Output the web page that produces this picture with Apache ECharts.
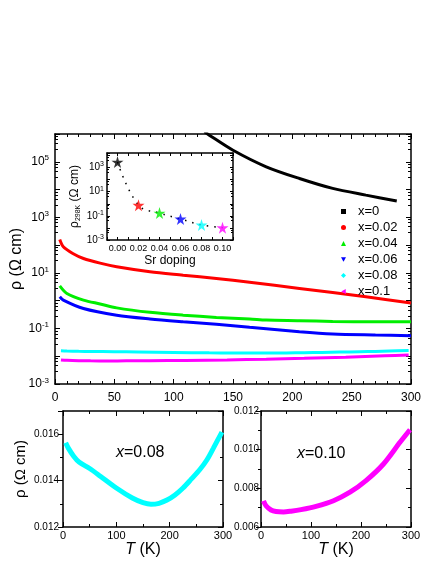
<!DOCTYPE html>
<html>
<head>
<meta charset="utf-8">
<script src="https://cdn.jsdelivr.net/npm/echarts@6/dist/echarts.min.js"></script>
<style>
html, body { margin: 0; padding: 0; background: #fff; }
#chart { width: 436px; height: 564px; }
</style>
</head>
<body>
<div id="chart"></div>
<script>
// main panel: resistivity vs T for each doping (log scale)
const temp0 = [126, 130, 150, 178, 206, 234, 262, 288];
const rho0 = [1.2e6, 9.1e5, 2.6e5, 6.6e4, 2.5e4, 1.1e4, 6300, 3900];

const temp02 = [4, 7, 15, 24, 38, 52, 80, 108, 136, 164, 206, 262, 300];
const rho02 = [158, 87, 50, 33, 22.4, 16.6, 11, 8.3, 6.3, 4.6, 2.75, 1.38, 0.83];

const temp04 = [4, 10, 24, 38, 52, 80, 108, 136, 164, 178, 206, 234, 270, 300];
const rho04 = [3.4, 1.82, 1.05, 0.76, 0.55, 0.38, 0.3, 0.25, 0.22, 0.2, 0.19, 0.178, 0.174, 0.174];

const temp06 = [4, 7, 24, 52, 80, 108, 136, 164, 206, 234, 270, 300];
const rho06 = [1.38, 1.05, 0.52, 0.3, 0.22, 0.174, 0.141, 0.11, 0.076, 0.063, 0.058, 0.055];

// x=0.08 and x=0.10 (also drawn on linear scale below)
const temp08 = [5, 10, 20, 30, 50, 70, 100, 130, 150, 165, 180, 195, 210, 225, 240, 257, 270, 282, 298];
const rho08 = [0.01563, 0.0154, 0.01505, 0.0148, 0.01452, 0.01419, 0.01368, 0.01325, 0.01305, 0.01298,
               0.01302, 0.01316, 0.01338, 0.01368, 0.01405, 0.01449, 0.0149, 0.0154, 0.01609];

const temp10 = [5, 10, 20, 30, 45, 60, 80, 110, 145, 178, 210, 245, 278, 298];
const rho10 = [0.00735, 0.0071, 0.00688, 0.0068, 0.00678, 0.00682, 0.0069, 0.00707, 0.00736, 0.0078,
               0.0084, 0.00926, 0.01038, 0.01103];

// inset: rho at 298 K vs Sr doping
const doping = [0, 0.02, 0.04, 0.06, 0.08, 0.10];
const rho298 = [2800, 0.76, 0.17, 0.055, 0.0176, 0.0105];

const names = ['x=0', 'x=0.02', 'x=0.04', 'x=0.06', 'x=0.08', 'x=0.1'];
const colors = ['#000000', '#ff0000', '#00ee00', '#0000ff', '#00ffff', '#ff00ff'];

const pairs = (xs, ys) => xs.map((x, i) => [x, ys[i]]);

const FONT = '"Liberation Sans", Arial, sans-serif';
const STAR = 'path://M50,0L61,35L98,35L68,57L79,91L50,70L21,91L32,57L2,35L39,35Z';

function logLabel(v) {
    const e = Math.round(Math.log10(v));
    if (Math.abs(e) % 2 !== 1 || e > 5) return '';
    return '{b|10}{s|' + e + '}';
}

function ticks(len, inside, split, minorLen) {
    return {
        axisTick: { show: true, inside: inside, length: len, lineStyle: { color: '#000', width: 1 } },
        minorTick: { show: split > 0, splitNumber: split || 2, length: minorLen, lineStyle: { color: '#000', width: 1 } }
    };
}

function axis(grid, extra) {
    return Object.assign({
        gridIndex: grid,
        type: 'value',
        axisLine: { show: true, onZero: false, lineStyle: { color: '#000', width: 1.5 } },
        splitLine: { show: false },
        axisLabel: { show: false },
        nameMoveOverlap: false
    }, ticks(5, true, 2, 3), extra);
}

const chart = echarts.init(document.getElementById('chart'));

const mainLines = [
    [temp0, rho0], [temp02, rho02], [temp04, rho04],
    [temp06, rho06], [temp08, rho08], [temp10, rho10]
].map((d, i) => ({
    name: names[i],
    type: 'line',
    xAxisIndex: 0,
    yAxisIndex: 0,
    data: pairs(d[0], d[1]),
    smooth: 0.3,
    showSymbol: false,
    itemStyle: { color: colors[i] },
    lineStyle: { color: colors[i], width: 3 },
    z: 3
}));

const tName = {
    fontSize: 16, color: '#000',
    rich: { i: { fontSize: 16, fontStyle: 'italic', color: '#000' } }
};

chart.setOption({
    animation: false,
    backgroundColor: '#fff',
    textStyle: { fontFamily: FONT, color: '#000' },
    grid: [
        { left: 55, top: 134, width: 356, height: 250, outerBoundsMode: 'none' },
        { left: 107, top: 153, width: 126, height: 87, show: true, backgroundColor: '#fff', borderWidth: 0, z: 4, outerBoundsMode: 'none' },
        { left: 63, top: 411, width: 160, height: 116, outerBoundsMode: 'none' },
        { left: 261, top: 411, width: 150, height: 116, outerBoundsMode: 'none' }
    ],
    legend: {
        orient: 'vertical',
        left: 336,
        top: 200,
        itemWidth: 5,
        itemHeight: 5,
        itemGap: 3,
        textStyle: { fontSize: 13, color: '#000', padding: [0, 0, 0, 7], lineHeight: 13 },
        data: [
            { name: 'x=0', icon: 'rect' },
            { name: 'x=0.02', icon: 'circle' },
            { name: 'x=0.04', icon: 'triangle' },
            { name: 'x=0.06', icon: 'path://M0,0L10,0L5,9Z' },
            { name: 'x=0.08', icon: 'diamond' },
            { name: 'x=0.1', icon: 'path://M10,0L10,10L1,5Z' }
        ]
    },
    xAxis: [
        axis(0, Object.assign({
            min: 0, max: 300, interval: 50,
            axisLabel: { show: true, fontSize: 12, color: '#000', margin: 8 }
        }, ticks(5, true, 5, 3))),
        axis(0, Object.assign({ position: 'top', min: 0, max: 300, interval: 50 }, ticks(5, true, 5, 3))),
        axis(1, Object.assign({
            min: -0.01, max: 0.11, interval: 0.01, z: 5,
            axisLabel: {
                show: true, fontSize: 9, color: '#000', margin: 4,
                formatter: v => {
                    const k = Math.round(v * 100);
                    return (k >= 0 && k % 2 === 0) ? v.toFixed(2) : '';
                }
            },
            name: 'Sr doping', nameLocation: 'middle', nameGap: 15,
            nameTextStyle: { fontSize: 12, color: '#000' }
        }, ticks(3, true, 0, 2))),
        axis(1, Object.assign({ position: 'top', min: -0.01, max: 0.11, interval: 0.01, z: 5 }, ticks(3, true, 0, 2))),
        axis(2, {
            min: 0, max: 300, interval: 100,
            axisLabel: { show: true, fontSize: 11, color: '#000', margin: 3 },
            name: '{i|T} (K)', nameLocation: 'middle', nameGap: 15, nameTextStyle: tName
        }),
        axis(2, { position: 'top', min: 0, max: 300, interval: 100 }),
        axis(3, {
            min: 0, max: 300, interval: 100,
            axisLabel: { show: true, fontSize: 11, color: '#000', margin: 3 },
            name: '{i|T} (K)', nameLocation: 'middle', nameGap: 15, nameTextStyle: tName
        }),
        axis(3, { position: 'top', min: 0, max: 300, interval: 100 })
    ],
    yAxis: [
        axis(0, Object.assign({
            type: 'log', logBase: 10, min: 0.001, max: 1e6,
            axisLabel: {
                show: true, color: '#000', margin: 6, formatter: logLabel,
                rich: { b: { fontSize: 12, color: '#000' }, s: { fontSize: 8, color: '#000', padding: [0, 0, 7, 0] } }
            },
            name: 'ρ (Ω cm)', nameLocation: 'middle', nameGap: 30,
            nameTextStyle: { fontSize: 16, color: '#000' }
        }, ticks(5, true, 5, 3))),
        axis(0, Object.assign({ type: 'log', logBase: 10, min: 0.001, max: 1e6, position: 'right' }, ticks(5, true, 5, 3))),
        axis(1, Object.assign({
            type: 'log', logBase: 10, min: 0.001, max: 15850, z: 5,
            axisLabel: {
                show: true, color: '#000', margin: 3, formatter: logLabel,
                rich: { b: { fontSize: 10, color: '#000' }, s: { fontSize: 7, color: '#000', padding: [0, 0, 6, 0] } }
            },
            name: '{a|ρ}{sub|298K}{a| (Ω cm)}', nameLocation: 'middle', nameGap: 25,
            nameTextStyle: {
                color: '#000',
                rich: { a: { fontSize: 12, color: '#000' }, sub: { fontSize: 7, color: '#000', padding: [7, 0, 0, 0] } }
            }
        }, ticks(3, true, 3, 2))),
        axis(1, Object.assign({ type: 'log', logBase: 10, min: 0.001, max: 15850, position: 'right', z: 5 }, ticks(3, true, 3, 2))),
        axis(2, Object.assign({
            min: 0.012, max: 0.017, interval: 0.002,
            axisLabel: {
                show: true, fontSize: 10, color: '#000', margin: 4,
                formatter: v => Math.round(v * 1000) % 2 === 0 ? v.toFixed(3) : ''
            },
            name: 'ρ (Ω cm)', nameLocation: 'middle', nameGap: 35,
            nameTextStyle: { fontSize: 15, color: '#000' }
        }, ticks(5, false, 2, 3))),
        axis(2, { position: 'right', min: 0.012, max: 0.017, interval: 0.002 }),
        axis(3, Object.assign({
            min: 0.006, max: 0.012, interval: 0.002,
            axisLabel: {
                show: true, fontSize: 10, color: '#000', margin: 2,
                formatter: v => v.toFixed(3)
            }
        }, ticks(5, false, 2, 3))),
        axis(3, { position: 'right', min: 0.006, max: 0.012, interval: 0.002 })
    ],
    graphic: [
        {
            type: 'text', left: 116, top: 445, z: 10,
            style: {
                text: '{i|x}=0.08', fill: '#000', font: '16px ' + FONT,
                rich: { i: { fontStyle: 'italic', fontSize: 16, fill: '#000' } }
            }
        },
        {
            type: 'text', left: 297, top: 446, z: 10,
            style: {
                text: '{i|x}=0.10', fill: '#000', font: '16px ' + FONT,
                rich: { i: { fontStyle: 'italic', fontSize: 16, fill: '#000' } }
            }
        }
    ],
    series: mainLines.concat([
        {
            name: 'fit',
            type: 'line',
            xAxisIndex: 2,
            yAxisIndex: 2,
            data: pairs(doping, rho298),
            smooth: 0.4,
            showSymbol: false,
            lineStyle: { color: '#000', width: 1.5, type: [1.5, 6] },
            z: 6
        },
        {
            name: 'rho298',
            type: 'scatter',
            xAxisIndex: 2,
            yAxisIndex: 2,
            data: pairs(doping, rho298),
            symbol: STAR,
            symbolSize: 12,
            itemStyle: { color: p => colors[p.dataIndex] },
            z: 7
        },
        {
            name: 'panel08',
            type: 'line',
            xAxisIndex: 4,
            yAxisIndex: 4,
            data: pairs(temp08, rho08),
            smooth: 0.3,
            showSymbol: false,
            lineStyle: { color: '#00ffff', width: 5 }
        },
        {
            name: 'panel10',
            type: 'line',
            xAxisIndex: 6,
            yAxisIndex: 6,
            data: pairs(temp10, rho10),
            smooth: 0.3,
            showSymbol: false,
            lineStyle: { color: '#ff00ff', width: 5 }
        }
    ])
});
</script>
</body>
</html>
